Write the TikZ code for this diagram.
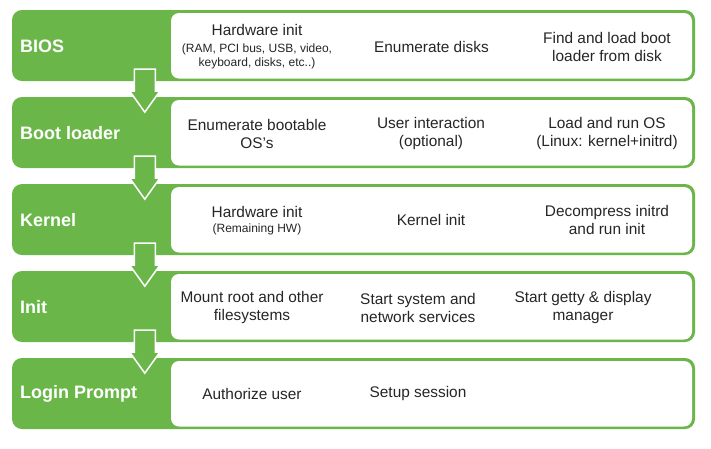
\documentclass[tikz,border=0pt]{standalone}
\usepackage{fontspec}
\setmainfont{Liberation Sans}
\usetikzlibrary{calc}
\definecolor{bootgreen}{RGB}{106,182,72}
\definecolor{txt}{RGB}{38,38,38}
\newcommand{\smallfnt}{\fontsize{12}{13}\selectfont}
\begin{document}
\begin{tikzpicture}[x=1pt,y=-1pt,
  rowbox/.style={draw=none, fill=bootgreen, rounded corners=10pt, minimum width=683pt, minimum height=71pt, inner sep=0pt},
  panel/.style={draw=none, fill=white, rounded corners=8pt, minimum width=521pt, minimum height=65.5pt, inner sep=0pt},
  lbl/.style={anchor=west, text=white, inner sep=0pt, font=\fontsize{18}{21}\selectfont\bfseries},
  item/.style={align=center, text=txt, inner sep=0pt, font=\fontsize{15.4}{18}\selectfont},
  flow/.style={fill=bootgreen, draw=white, line width=1.5pt, line join=miter}
]
\useasboundingbox (0,0) rectangle (711,448);

% rows
\foreach \i/\y in {1/45.5,2/132.5,3/219.5,4/306.5,5/393.5}{
  \node[rowbox] (r\i) at (353.5,\y) {};
  \node[panel] (p\i) at (431.5,\y+0.25) {};
}

% labels
\node[lbl] (l1) at (20,46) {BIOS};
\node[lbl] (l2) at (20,133) {Boot loader};
\node[lbl] (l3) at (20,220) {Kernel};
\node[lbl] (l4) at (20,307) {Init};
\node[lbl] (l5) at (20,394) {Login Prompt};

% arrows
\foreach \a/\b in {1/2,2/3,3/4,4/5}{
  \draw[flow] ($(r\a.south west)+(122.5,-12)$) -- ($(r\a.south west)+(122.5,10)$)
    -- ($(r\a.south west)+(118,10)$) -- ($(r\a.south west)+(133,31)$)
    -- ($(r\a.south west)+(148,10)$) -- ($(r\a.south west)+(143.5,10)$)
    -- ($(r\a.south west)+(143.5,-12)$) -- cycle;
}

% row 1
\node[item] (t11) at (257,46.5) {Hardware init\\[-1pt]{\smallfnt (RAM, PCI bus, USB, video,}\\[-4pt]{\smallfnt keyboard, disks, etc..)}};
\node[item] (t12) at (431.5,46.5) {Enumerate disks};
\node[item] (t13) at (607,46.5) {Find and load boot\\loader from disk};
% row 2
\node[item] (t21) at (257,133.5) {Enumerate bootable\\OS's};
\node[item] (t22) at (431,133.5) {User interaction\\(optional)};
\node[item] (t23) at (607,133.5) {Load and run OS\\(Linux: kernel+initrd)};
% row 3
\node[item] (t31) at (257,221) {Hardware init\\[-3pt]{\smallfnt (Remaining HW)}};
\node[item] (t32) at (431,220) {Kernel init};
\node[item] (t33) at (607,220) {Decompress initrd\\and run init};
% row 4
\node[item] (t41) at (252,307.5) {Mount root and other\\filesystems};
\node[item] (t42) at (418,307.5) {Start system and\\network services};
\node[item] (t43) at (583,307.5) {Start getty \& display\\manager};
% row 5
\node[item] (t51) at (252,394) {Authorize user};
\node[item] (t52) at (418,394) {Setup session};
\end{tikzpicture}
\end{document}
